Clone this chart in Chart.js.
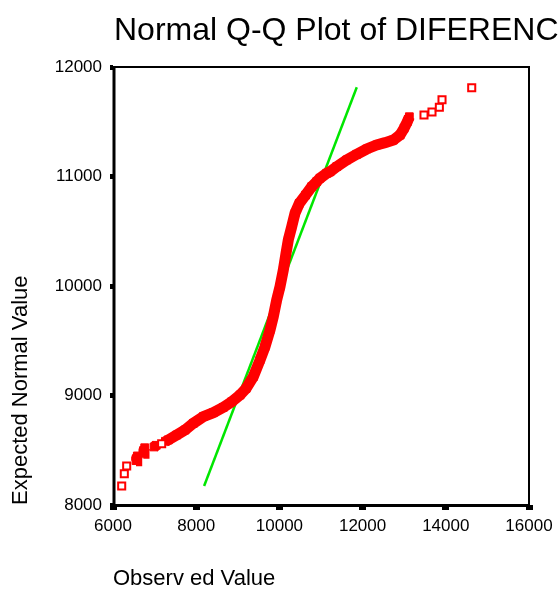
<!DOCTYPE html>
<html>
<head>
<meta charset="utf-8">
<script src="https://cdn.jsdelivr.net/npm/chart.js@4.4.0/dist/chart.umd.min.js"></script>
<style>
  html, body { margin: 0; padding: 0; background: #fff; }
  canvas { display: block; }
</style>
</head>
<body>
<canvas id="qq-chart" width="560" height="592"></canvas>
<script>
// Normal Q-Q plot (SPSS style)

const TITLE = 'Normal Q-Q Plot of DIFERENC';
const FONT = "'Liberation Sans', Arial, sans-serif";

const xTicks = [6000, 8000, 10000, 12000, 14000, 16000];
const yTicks = [8000, 9000, 10000, 11000, 12000];

// isolated markers at both tails (hollow squares)
const obsTails = [6209, 6272, 6329, 7170, 13476, 13668, 13845, 13909, 14623];
const expTails = [8174, 8286, 8356, 8560, 11562, 11589, 11632, 11701, 11811];

// dense run of markers that merge into a solid band
const obsBand = [6553, 6570, 6585, 6729, 6745, 6762, 6985, 7040,
  7260, 7330, 7531, 7731, 7931, 8171, 8411, 8652, 8853, 9053, 9200,
  9373, 9534, 9654, 9774, 9854, 9935, 10015, 10094, 10159, 10214,
  10296, 10375, 10479, 10630, 10777, 10897, 10976, 11137, 11217,
  11378, 11618, 11859, 12099, 12339, 12539, 12739, 12900, 12996,
  13075, 13124];
const expBand = [8405, 8427, 8448, 8472, 8500, 8523, 8530, 8545,
  8582, 8594, 8639, 8685, 8746, 8807, 8843, 8892, 8943, 9005, 9065,
  9172, 9324, 9446, 9598, 9720, 9872, 9994, 10146, 10299, 10420,
  10542, 10664, 10755, 10831, 10907, 10953, 10984, 11029, 11044,
  11090, 11151, 11203, 11251, 11288, 11309, 11333, 11379, 11440,
  11500, 11546];
// the band has small gaps after these points
const bandBreaks = [2, 5, 7];

// reference line
const obsLine = [8190, 11860];
const expLine = [8174, 11815];

const toPoints = (xs, ys) => xs.map((x, i) => ({ x, y: ys[i] }));

const RED = '#ff0000';
const GREEN = '#00e600';

// main title, left aligned like the original output
const titlePlugin = {
  id: 'qqTitle',
  afterDraw(chart) {
    const ctx = chart.ctx;
    ctx.save();
    ctx.font = `32px ${FONT}`;
    ctx.fillStyle = '#000';
    ctx.textBaseline = 'alphabetic';
    ctx.textAlign = 'left';
    ctx.fillText(TITLE, 114, 40);
    ctx.restore();
  }
};

// frame round the plot area: heavy left/bottom, thinner top/right
const framePlugin = {
  id: 'qqFrame',
  afterDatasetsDraw(chart) {
    const { ctx, chartArea: a } = chart;
    ctx.save();
    ctx.strokeStyle = '#000';
    ctx.lineWidth = 2;
    ctx.beginPath();
    ctx.moveTo(a.left, a.top);
    ctx.lineTo(a.right, a.top);
    ctx.lineTo(a.right, a.bottom);
    ctx.stroke();
    ctx.lineWidth = 3;
    ctx.beginPath();
    ctx.moveTo(a.left + 1, a.top - 1);
    ctx.lineTo(a.left + 1, a.bottom + 0.5);
    ctx.lineTo(a.right + 1, a.bottom + 0.5);
    ctx.stroke();
    ctx.restore();
  }
};

const plainLabel = (v) => String(v);

new Chart(document.getElementById('qq-chart'), {
  type: 'scatter',
  data: {
    datasets: [
      {
        label: 'Reference',
        data: toPoints(obsLine, expLine),
        showLine: true,
        borderColor: GREEN,
        borderWidth: 2.5,
        pointRadius: 0,
        order: 3,
      },
      {
        label: 'Band',
        data: toPoints(obsBand, expBand),
        showLine: true,
        borderColor: RED,
        borderWidth: 11,
        borderCapStyle: 'butt',
        tension: 0,
        segment: {
          borderColor: (c) => (bandBreaks.includes(c.p0DataIndex) ? 'rgba(0,0,0,0)' : undefined),
        },
        pointStyle: 'rect',
        pointRadius: 5.5,
        pointBackgroundColor: RED,
        pointBorderColor: RED,
        pointBorderWidth: 1,
        order: 2,
      },
      {
        label: 'Tails',
        data: toPoints(obsTails, expTails),
        pointStyle: 'rect',
        pointRadius: 5,
        pointBackgroundColor: '#fff',
        pointBorderColor: RED,
        pointBorderWidth: 2,
        order: 1,
      },
    ],
  },
  options: {
    responsive: false,
    animation: false,
    devicePixelRatio: 1,
    layout: {
      padding: { top: 67, right: 31, left: 0, bottom: 0 },
    },
    plugins: {
      legend: { display: false },
      tooltip: { enabled: false },
    },
    scales: {
      x: {
        type: 'linear',
        min: xTicks[0],
        max: xTicks[xTicks.length - 1],
        afterBuildTicks: (s) => { s.ticks = xTicks.map(v => ({ value: v })); },
        afterFit: (s) => { s.height = 87; },
        border: { display: false },
        grid: {
          drawOnChartArea: false,
          drawTicks: true,
          tickLength: 5,
          tickWidth: 7,
          tickColor: '#000',
        },
        ticks: {
          padding: 6,
          color: '#000',
          maxRotation: 0,
          callback: plainLabel,
          font: { size: 17, family: FONT },
        },
        title: {
          display: true,
          text: 'Observ ed Value',
          align: 'start',
          color: '#000',
          padding: { top: 0, bottom: 0 },
          font: { size: 22, family: FONT },
        },
      },
      y: {
        type: 'linear',
        min: yTicks[0],
        max: yTicks[yTicks.length - 1],
        afterBuildTicks: (s) => { s.ticks = yTicks.map(v => ({ value: v })); },
        afterFit: (s) => { s.width = 113; },
        border: { display: false },
        grid: {
          drawOnChartArea: false,
          drawTicks: true,
          tickLength: 3,
          tickWidth: 5,
          tickColor: '#000',
        },
        ticks: {
          padding: 8,
          color: '#000',
          callback: plainLabel,
          font: { size: 17, family: FONT },
        },
        title: {
          display: true,
          text: 'Expected Normal Value',
          align: 'start',
          color: '#000',
          padding: { top: 8, bottom: 0 },
          font: { size: 22, family: FONT },
        },
      },
    },
  },
  plugins: [titlePlugin, framePlugin],
});
</script>
</body>
</html>
